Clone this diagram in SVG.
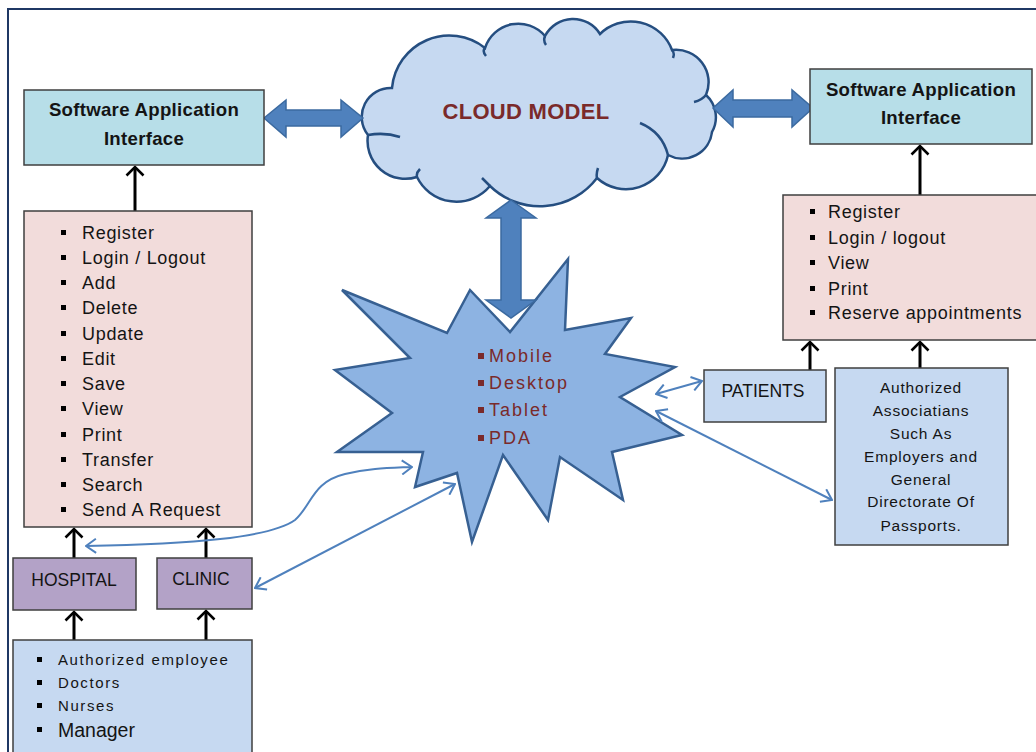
<svg xmlns="http://www.w3.org/2000/svg" width="1036" height="752" viewBox="0 0 1036 752">
<style>
.box{stroke:#3f3f3f;stroke-width:1.5}
.sai{fill:#b7dee8}
.pink{fill:#f2dcdb}
.purp{fill:#b3a2c7}
.lb{fill:#c6d9f1}
text{font-family:"Liberation Sans",Arial,sans-serif;fill:#141414}
.h{font-weight:bold;font-size:18.6px;text-anchor:middle;letter-spacing:0.3px}
.li{font-size:18px;letter-spacing:0.7px}
.sm{font-size:15px;letter-spacing:1.6px}
.au{font-size:15.5px;text-anchor:middle;letter-spacing:0.8px}
.lab{font-size:17.5px;text-anchor:middle}
.dev{font-size:18px;letter-spacing:2px;fill:#7a2a2a}
.blk{stroke:#000;stroke-width:3;fill:none}
.thin{stroke:#4f81bd;stroke-width:2;fill:none}
.block{fill:#4f81bd;stroke:#3b6aa0;stroke-width:1.5}
</style>
<defs>
<marker id="ab" viewBox="0 0 12 20" refX="10" refY="10" markerWidth="12" markerHeight="20" markerUnits="userSpaceOnUse" orient="auto-start-reverse">
<path d="M1.5,1.5 L10,10 L1.5,18.5" fill="none" stroke="#000" stroke-width="2.6"/>
</marker>
<marker id="at" viewBox="0 0 12 16" refX="11" refY="8" markerWidth="12" markerHeight="16" markerUnits="userSpaceOnUse" orient="auto-start-reverse">
<path d="M1,1 L11,8 L1,15" fill="none" stroke="#4f81bd" stroke-width="2"/>
</marker>
</defs>
<rect width="1036" height="752" fill="#fff"/>
<rect x="8" y="9" width="1040" height="760" fill="none" stroke="#1f3864" stroke-width="2"/>

<g id="cloud">
<path d="M368,135 A29,29 0 0 1 392,88 A57.5,57.5 0 0 1 485,48 A35,35 0 0 1 545,36 A31.6,31.6 0 0 1 600,34 A44,44 0 0 1 672,50 A32.5,32.5 0 0 1 706,95 A30,30 0 0 1 712,132 A30,30 0 0 1 668,155 A43,43 0 0 1 597,178 A71.6,71.6 0 0 1 490,186 A43.8,43.8 0 0 1 417,177 A37.9,37.9 0 0 1 368,135 Z" fill="#c6d9f1" stroke="#254e80" stroke-width="2.5"/>
<path d="M368,135 Q385,132 400,137 M485,48 Q482,51 486,56 M545,36 Q543,41 546,45 M672,50 Q675,53 673,58 M706,95 Q702,100 694,102 M640,123 Q662,132 668,155 M597,178 Q596,174 598,168 M490,186 Q486,182 482,178 M417,177 Q416,173 420,169" fill="none" stroke="#254e80" stroke-width="2.5"/>
<text x="526" y="119" style="font-weight:bold;font-size:22px;text-anchor:middle;fill:#7a2a2a;letter-spacing:0.3px">CLOUD MODEL</text>
</g>

<g id="devices">
<polygon points="342,290 447,333 470,290 510,332 568,259 565,330 631,318 605,354 675,367 620,397 682,435 612,452 623,500 560,457 548,520 503,455 472,542 457,473 415,487 423,452 337,452 392,413 335,370 410,358" fill="#8db3e2" stroke="#376092" stroke-width="2.5" stroke-linejoin="miter"/>
<rect x="478" y="353" width="6" height="6" fill="#7a2a2a"/>
<rect x="478" y="380" width="6" height="6" fill="#7a2a2a"/>
<rect x="478" y="407" width="6" height="6" fill="#7a2a2a"/>
<rect x="478" y="435" width="6" height="6" fill="#7a2a2a"/>
<text class="dev" x="489" y="362">Mobile</text>
<text class="dev" x="489" y="389">Desktop</text>
<text class="dev" x="489" y="416">Tablet</text>
<text class="dev" x="489" y="444">PDA</text>
</g>

<g id="connectors">
<polygon class="block" points="264,118 286,100 286,110 341,110 341,100 363,118 341,137 341,126 286,126 286,137"/>
<polygon class="block" points="713,108 733,90 733,100 792,100 792,90 813,108 792,127 792,117 733,117 733,127"/>
<polygon class="block" points="511,200 536,218 521,218 521,300 536,300 511,318 486,300 501,300 501,218 486,218"/>
<line class="blk" x1="135" y1="211" x2="135" y2="167" marker-end="url(#ab)"/>
<line class="blk" x1="74" y1="558" x2="74" y2="529" marker-end="url(#ab)"/>
<line class="blk" x1="206" y1="558" x2="206" y2="529" marker-end="url(#ab)"/>
<line class="blk" x1="74" y1="640" x2="74" y2="612" marker-end="url(#ab)"/>
<line class="blk" x1="206" y1="640" x2="206" y2="611" marker-end="url(#ab)"/>
<line class="blk" x1="920" y1="195" x2="920" y2="146" marker-end="url(#ab)"/>
<line class="blk" x1="810" y1="370" x2="810" y2="342" marker-end="url(#ab)"/>
<line class="blk" x1="920" y1="368" x2="920" y2="342" marker-end="url(#ab)"/>
<line class="thin" x1="702" y1="381" x2="656" y2="394" marker-start="url(#at)" marker-end="url(#at)"/>
<line class="thin" x1="832" y1="500" x2="656" y2="411" marker-start="url(#at)" marker-end="url(#at)"/>
<line class="thin" x1="255" y1="588" x2="455" y2="484" marker-start="url(#at)" marker-end="url(#at)"/>
<path class="thin" d="M86,546 C190,544 270,538 295,520 C312,505 312,482 345,474 C370,468 390,468 412,467" marker-start="url(#at)" marker-end="url(#at)"/>
</g>

<g id="sai-left">
<rect class="box sai" x="24" y="90" width="240" height="75"/>
<text class="h" x="144" y="116">Software Application</text>
<text class="h" x="144" y="145">Interface</text>
</g>

<g id="functions-left">
<rect class="box pink" x="24" y="211" width="228" height="316"/>
<g fill="#000">
<rect x="61" y="230" width="5" height="5"/><rect x="61" y="255" width="5" height="5"/><rect x="61" y="280" width="5" height="5"/><rect x="61" y="305" width="5" height="5"/><rect x="61" y="331" width="5" height="5"/><rect x="61" y="356" width="5" height="5"/><rect x="61" y="381" width="5" height="5"/><rect x="61" y="406" width="5" height="5"/><rect x="61" y="432" width="5" height="5"/><rect x="61" y="457" width="5" height="5"/><rect x="61" y="482" width="5" height="5"/><rect x="61" y="507" width="5" height="5"/>
</g>
<text class="li" x="82" y="239">Register</text>
<text class="li" x="82" y="264">Login / Logout</text>
<text class="li" x="82" y="289">Add</text>
<text class="li" x="82" y="314">Delete</text>
<text class="li" x="82" y="340">Update</text>
<text class="li" x="82" y="365">Edit</text>
<text class="li" x="82" y="390">Save</text>
<text class="li" x="82" y="415">View</text>
<text class="li" x="82" y="441">Print</text>
<text class="li" x="82" y="466">Transfer</text>
<text class="li" x="82" y="491">Search</text>
<text class="li" x="82" y="516">Send A Request</text>
</g>

<g id="hospital">
<rect class="box purp" x="13" y="558" width="123" height="52"/>
<text class="lab" x="74" y="586">HOSPITAL</text>
</g>

<g id="clinic">
<rect class="box purp" x="157" y="558" width="95" height="51"/>
<text class="lab" x="201" y="585">CLINIC</text>
</g>

<g id="staff">
<rect class="box lb" x="13" y="640" width="239" height="115"/>
<g fill="#000">
<rect x="37" y="657" width="5" height="5"/><rect x="37" y="680" width="5" height="5"/><rect x="37" y="703" width="5" height="5"/><rect x="37" y="727" width="5" height="5"/>
</g>
<text class="sm" x="58" y="665">Authorized employee</text>
<text class="sm" x="58" y="688">Doctors</text>
<text class="sm" x="58" y="711">Nurses</text>
<text x="58" y="737" style="font-size:19.5px">Manager</text>
</g>

<g id="sai-right">
<rect class="box sai" x="810" y="69" width="222" height="75"/>
<text class="h" x="921" y="96">Software Application</text>
<text class="h" x="921" y="124">Interface</text>
</g>

<g id="functions-right">
<rect class="box pink" x="783" y="195" width="260" height="145"/>
<g fill="#000">
<rect x="810" y="209" width="5" height="5"/><rect x="810" y="235" width="5" height="5"/><rect x="810" y="260" width="5" height="5"/><rect x="810" y="286" width="5" height="5"/><rect x="810" y="310" width="5" height="5"/>
</g>
<text class="li" x="828" y="218">Register</text>
<text class="li" x="828" y="244">Login / logout</text>
<text class="li" x="828" y="269">View</text>
<text class="li" x="828" y="295">Print</text>
<text class="li" x="828" y="319">Reserve appointments</text>
</g>

<g id="patients">
<rect class="box lb" x="704" y="370" width="122" height="52"/>
<text class="lab" x="763" y="397">PATIENTS</text>
</g>

<g id="associations">
<rect class="box lb" x="835" y="368" width="173" height="177"/>
<text class="au" x="921" y="393">Authorized</text>
<text class="au" x="921" y="416">Associatians</text>
<text class="au" x="921" y="439">Such As</text>
<text class="au" x="921" y="462">Employers and</text>
<text class="au" x="921" y="485">General</text>
<text class="au" x="921" y="507">Directorate Of</text>
<text class="au" x="921" y="531">Passports.</text>
</g>
</svg>
